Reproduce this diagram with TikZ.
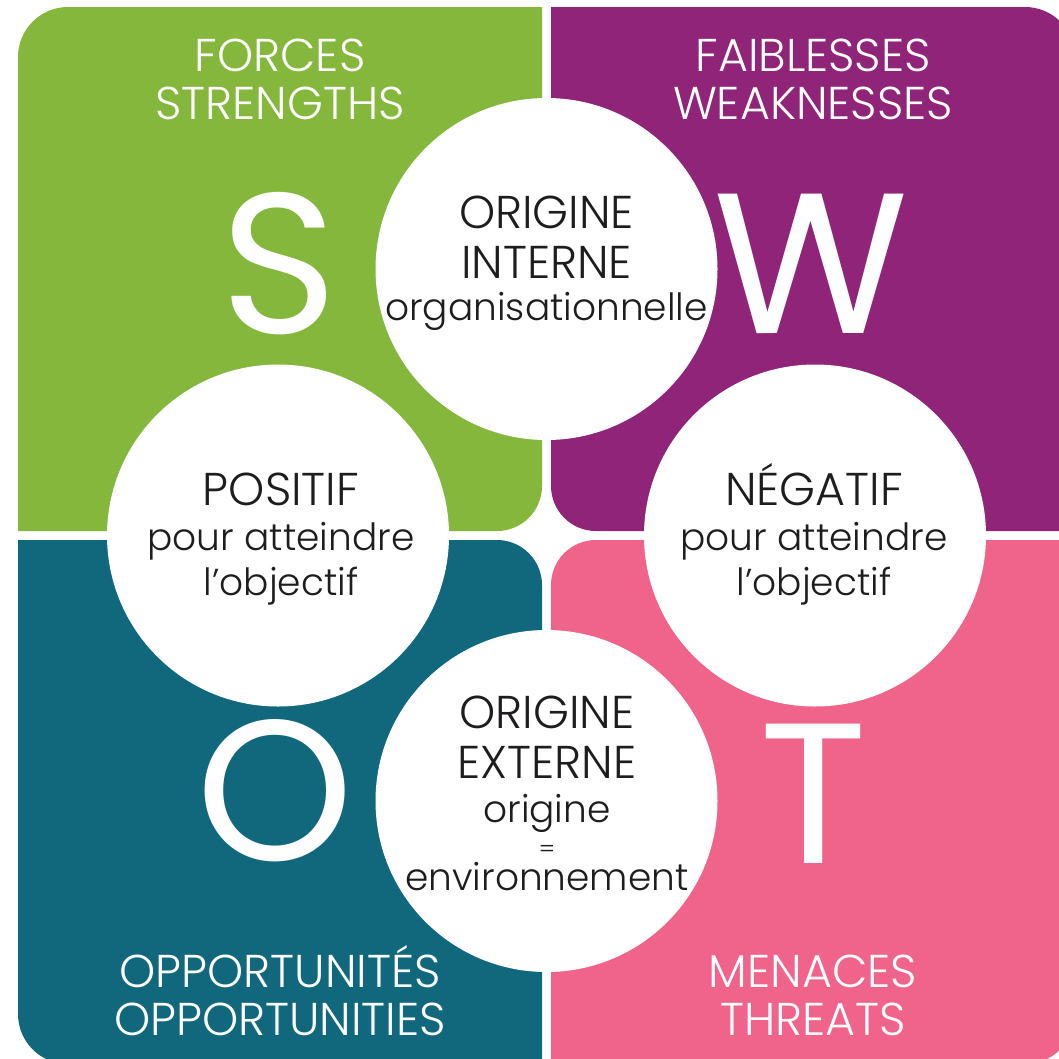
\documentclass[tikz,border=0pt]{standalone}
\usepackage{fontspec}
\setmainfont{Poppins}[UprightFont={* Light}]
\newfontfamily\letterfont{Poppins}
\definecolor{swotgreen}{RGB}{132, 183, 59}
\definecolor{swotpurple}{RGB}{143, 36, 121}
\definecolor{swotteal}{RGB}{17, 104, 124}
\definecolor{swotpink}{RGB}{240, 99, 138}
\definecolor{swotink}{RGB}{30, 28, 30}
\newcommand{\lowline}[1]{{\fontsize{37.5}{42}\selectfont #1}}

\begin{document}
\begin{tikzpicture}[x=1pt, y=-1pt,
      bubble/.style={circle, fill=white, minimum size=342pt, inner sep=0pt},
      bubbletext/.style={anchor=base, align=center, text=swotink, inner sep=0pt,
                         font=\fontsize{46}{50}\selectfont},
      title/.style={anchor=base, align=center, text=white, inner sep=0pt,
                    font=\fontsize{46}{48}\selectfont},
      letter/.style={anchor=base, text=white, inner sep=0pt,
                     font=\letterfont\fontsize{200}{200}\selectfont}
    ]
      % Cadre
      \useasboundingbox (0,0) rectangle (1059,1058);
      \clip (0,0) rectangle (1059,1058);
      \fill[white] (0,0) rectangle (1059,1058);

      % Quadrants
      \fill[swotgreen] (18,531) -- (18,57) arc[start angle=180, end angle=270, radius=50]
        -- (542,7) -- (542,486) arc[start angle=0, end angle=90, radius=45] -- cycle;
      \fill[swotpurple] (551,7) -- (1025,7) arc[start angle=270, end angle=360, radius=50]
        -- (1075,531) -- (596,531) arc[start angle=90, end angle=180, radius=45] -- cycle;
      \fill[swotteal] (18,540) -- (497,540) arc[start angle=270, end angle=360, radius=45]
        -- (542,1064) -- (68,1064) arc[start angle=90, end angle=180, radius=50] -- cycle;
      \fill[swotpink] (551,1064) -- (551,585) arc[start angle=180, end angle=270, radius=45]
        -- (1075,540) -- (1075,1014) arc[start angle=0, end angle=90, radius=50] -- cycle;

      % Lettres
      \node[letter] (s) at (279,333) {S};
      \node[letter] (w) at (811,333) {W};
      \node[letter] (o) at (275,860) {O};
      \node[letter] (t) at (814,863) {T};

      % Titres
      \node[title] (forces) at (280,119) {FORCES\\STRENGTHS};
      \node[title] (faiblesses) at (813,119) {FAIBLESSES\\WEAKNESSES};
      \node[title] (opportunites) at (280,1035) {OPPORTUNITÉS\\OPPORTUNITIES};
      \node[title] (menaces) at (813,1035) {MENACES\\THREATS};

      % Cercles
      \node[bubble] (internal) at (546.5,269) {};
      \node[bubble] (positive) at (278,535.5) {};
      \node[bubble] (negative) at (815,535.5) {};
      \node[bubble] (external) at (546.5,801) {};

      % Textes des cercles
      \node[bubbletext] (internaltext) at (546.5,320)
        {ORIGINE\\INTERNE\\[-8pt]\lowline{organisationnelle}};
      \node[bubbletext] (positivetext) at (281,595)
        {POSITIF\\[-5pt]\lowline{pour atteindre}\\[-5pt]\lowline{l’objectif}};
      \node[bubbletext] (negativetext) at (814,595)
        {NÉGATIF\\[-5pt]\lowline{pour atteindre}\\[-5pt]\lowline{l’objectif}};
      \node[bubbletext] (externaltext) at (547,890)
        {ORIGINE\\EXTERNE\\[-6pt]\lowline{origine}\\[-15pt]{\fontsize{24}{26}\selectfont =}\\[-17pt]\lowline{environnement}};
    \end{tikzpicture}
\end{document}
